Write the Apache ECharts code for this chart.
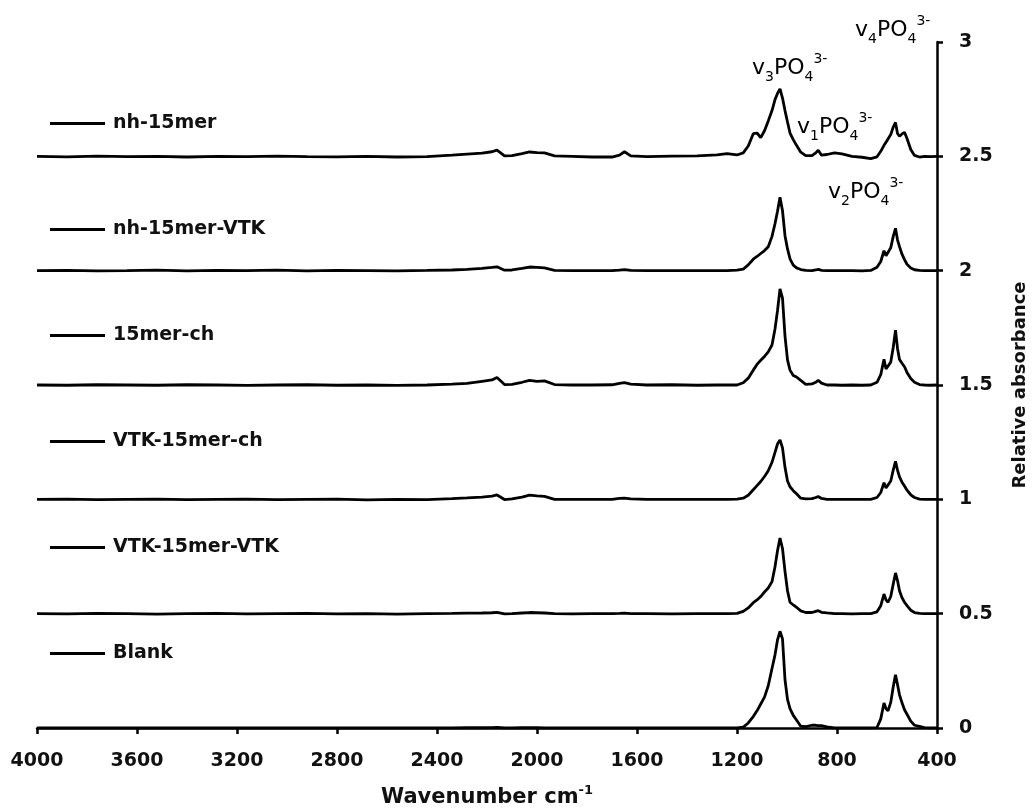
<!DOCTYPE html>
<html lang="en">
<head>
    <meta charset="UTF-8">
    <title>FTIR spectra</title>
    <script src="https://cdn.jsdelivr.net/npm/echarts@6/dist/echarts.min.js"></script>
</head>
<body style="margin:0;background:#fff;">
<div id="main" style="width: 1036px;height:810px;"></div>
<script>
    // wavenumber grid (cm-1), shared by all spectra
    var wavenumber = [4000, 3880, 3760, 3640, 3520, 3400, 3280, 3160, 3040, 2920,
        2800, 2680, 2560, 2440, 2340, 2280, 2220, 2180, 2160, 2130,
        2100, 2060, 2030, 2000, 1970, 1930, 1860, 1780, 1700, 1670,
        1650, 1625, 1560, 1460, 1360, 1280, 1240, 1200, 1175, 1155,
        1135, 1120, 1105, 1090, 1075, 1060, 1048, 1038, 1028, 1018,
        1008, 998, 988, 975, 962, 945, 925, 900, 885, 875,
        862, 840, 810, 780, 740, 700, 665, 640, 625, 612,
        604, 596, 585, 575, 566, 558, 550, 540, 530, 520,
        505, 490, 470, 450, 425, 400];

    var nh15mer = [2.500, 2.498, 2.501, 2.499, 2.500, 2.497, 2.500, 2.499, 2.501, 2.499,
        2.498, 2.500, 2.497, 2.499, 2.505, 2.510, 2.514, 2.520, 2.527, 2.502,
        2.503, 2.512, 2.519, 2.516, 2.515, 2.502, 2.500, 2.497, 2.497, 2.505,
        2.520, 2.502, 2.499, 2.501, 2.502, 2.506, 2.512, 2.506, 2.515, 2.545,
        2.599, 2.602, 2.582, 2.612, 2.655, 2.700, 2.748, 2.775, 2.795, 2.755,
        2.700, 2.650, 2.602, 2.573, 2.548, 2.518, 2.503, 2.503, 2.515, 2.527,
        2.505, 2.508, 2.515, 2.511, 2.500, 2.496, 2.490, 2.498, 2.522, 2.548,
        2.562, 2.566, 2.595, 2.628, 2.648, 2.600, 2.588, 2.598, 2.605, 2.578,
        2.530, 2.504, 2.497, 2.500, 2.499, 2.500];

    var nh15merVTK = [2.000, 2.001, 1.999, 2.000, 2.002, 1.999, 2.001, 2.000, 2.002, 1.999,
        2.001, 2.000, 1.999, 2.001, 2.003, 2.006, 2.010, 2.014, 2.017, 2.002,
        2.003, 2.010, 2.016, 2.014, 2.012, 2.001, 2.000, 2.000, 2.000, 2.002,
        2.005, 2.001, 2.000, 2.000, 2.000, 2.000, 2.000, 2.002, 2.007, 2.025,
        2.050, 2.062, 2.075, 2.088, 2.105, 2.150, 2.205, 2.260, 2.321, 2.262,
        2.153, 2.095, 2.052, 2.024, 2.012, 2.005, 2.001, 2.000, 2.003, 2.006,
        2.001, 2.000, 2.000, 2.000, 2.000, 1.999, 2.001, 2.015, 2.040, 2.087,
        2.065, 2.058, 2.100, 2.150, 2.185, 2.135, 2.105, 2.072, 2.048, 2.028,
        2.012, 2.004, 2.001, 2.000, 2.000, 2.000];

    var mer15ch = [1.500, 1.499, 1.501, 1.500, 1.499, 1.501, 1.500, 1.498, 1.500, 1.501,
        1.499, 1.500, 1.498, 1.500, 1.504, 1.507, 1.516, 1.522, 1.533, 1.502,
        1.503, 1.512, 1.520, 1.516, 1.518, 1.502, 1.500, 1.500, 1.501, 1.507,
        1.510, 1.504, 1.500, 1.501, 1.499, 1.500, 1.500, 1.500, 1.510, 1.530,
        1.565, 1.590, 1.608, 1.625, 1.645, 1.675, 1.745, 1.825, 1.920, 1.880,
        1.714, 1.610, 1.565, 1.542, 1.535, 1.520, 1.503, 1.505, 1.512, 1.520,
        1.508, 1.500, 1.500, 1.499, 1.500, 1.499, 1.500, 1.512, 1.545, 1.612,
        1.570, 1.565, 1.600, 1.665, 1.740, 1.660, 1.612, 1.595, 1.580, 1.555,
        1.528, 1.512, 1.502, 1.500, 1.499, 1.500];

    var vtk15merCh = [1.000, 1.001, 0.999, 1.000, 1.001, 0.999, 1.000, 1.001, 0.999, 1.000,
        1.001, 0.998, 1.000, 0.999, 1.003, 1.006, 1.010, 1.014, 1.019, 0.999,
        1.002, 1.010, 1.018, 1.015, 1.013, 1.000, 1.000, 1.000, 1.000, 1.004,
        1.005, 1.002, 1.000, 1.000, 1.000, 1.000, 1.000, 1.001, 1.005, 1.018,
        1.042, 1.060, 1.078, 1.100, 1.125, 1.162, 1.205, 1.242, 1.260, 1.225,
        1.140, 1.080, 1.055, 1.038, 1.024, 1.005, 1.002, 1.003, 1.008, 1.012,
        1.004, 1.000, 1.000, 1.000, 1.000, 1.000, 1.000, 1.008, 1.030, 1.073,
        1.050, 1.047, 1.080, 1.128, 1.166, 1.128, 1.098, 1.075, 1.058, 1.040,
        1.020, 1.008, 1.001, 1.000, 1.000, 1.000];

    var vtk15merVTK = [0.500, 0.499, 0.501, 0.500, 0.498, 0.500, 0.501, 0.499, 0.500, 0.501,
        0.499, 0.500, 0.498, 0.500, 0.501, 0.502, 0.503, 0.504, 0.506, 0.499,
        0.500, 0.503, 0.505, 0.504, 0.503, 0.500, 0.499, 0.500, 0.500, 0.501,
        0.502, 0.500, 0.500, 0.499, 0.500, 0.500, 0.500, 0.501, 0.510, 0.525,
        0.548, 0.560, 0.575, 0.595, 0.612, 0.640, 0.705, 0.775, 0.831, 0.785,
        0.685, 0.600, 0.550, 0.538, 0.528, 0.512, 0.505, 0.505, 0.510, 0.513,
        0.506, 0.503, 0.500, 0.500, 0.499, 0.500, 0.500, 0.508, 0.535, 0.586,
        0.560, 0.550, 0.575, 0.630, 0.678, 0.645, 0.600, 0.570, 0.550, 0.535,
        0.515, 0.505, 0.501, 0.500, 0.500, 0.500];

    var blank = [0.000, 0.000, 0.000, 0.000, 0.000, 0.000, 0.000, 0.000, 0.000, 0.000,
        0.000, 0.000, 0.000, 0.000, 0.000, 0.001, 0.001, 0.002, 0.003, 0.000,
        0.000, 0.001, 0.001, 0.001, 0.000, 0.000, 0.000, 0.000, 0.000, 0.000,
        0.000, 0.000, 0.000, 0.000, 0.000, 0.000, 0.000, 0.000, 0.004, 0.022,
        0.050, 0.075, 0.105, 0.135, 0.185, 0.260, 0.320, 0.385, 0.423, 0.390,
        0.211, 0.125, 0.085, 0.055, 0.035, 0.008, 0.006, 0.012, 0.012, 0.010,
        0.010, 0.005, 0.000, 0.000, 0.000, 0.000, 0.000, 0.002, 0.040, 0.109,
        0.085, 0.075, 0.112, 0.180, 0.233, 0.190, 0.145, 0.110, 0.080, 0.060,
        0.030, 0.012, 0.007, 0.002, 0.000, 0.000];

    var seriesNames = ['nh-15mer', 'nh-15mer-VTK', '15mer-ch', 'VTK-15mer-ch', 'VTK-15mer-VTK', 'Blank'];
    var seriesValues = [nh15mer, nh15merVTK, mer15ch, vtk15merCh, vtk15merVTK, blank];

    var font = 'DejaVu Sans';

    function pairs(ys) {
        return wavenumber.map(function (w, i) { return [w, ys[i]]; });
    }

    var peakRich = {
        m: { fontFamily: font, fontSize: 22, color: '#111', lineHeight: 32 },
        b: { fontFamily: font, fontSize: 14, color: '#111', verticalAlign: 'bottom', lineHeight: 14 },
        t: { fontFamily: font, fontSize: 14, color: '#111', verticalAlign: 'top', lineHeight: 14 }
    };

    function peakLabel(n, x, y) {
        return {
            type: 'text',
            left: x,
            top: y - 16,
            style: {
                text: '{m|v}{b|' + n + '}{m|PO}{b|4}{t|3-}',
                rich: peakRich
            }
        };
    }

    var myChart = echarts.init(document.getElementById('main'));

    option = {
        animation: false,
        backgroundColor: '#fff',
        grid: {
            left: 37,
            right: 99,
            top: 42,
            bottom: 82,
            containLabel: false,
            outerBoundsMode: 'none'
        },
        legend: {
            orient: 'vertical',
            left: 50,
            top: 114,
            padding: 0,
            itemGap: 87,
            itemWidth: 55,
            itemHeight: 3,
            icon: 'rect',
            selectedMode: false,
            data: seriesNames,
            textStyle: {
                fontFamily: font,
                fontWeight: 'bold',
                fontSize: 19,
                color: '#111',
                padding: [0, 0, 0, 3]
            }
        },
        xAxis: {
            type: 'value',
            inverse: true,
            min: 400,
            max: 4000,
            interval: 400,
            name: '{a|Wavenumber cm}{s|-1}',
            nameLocation: 'middle',
            nameGap: 56,
            nameTextStyle: {
                rich: {
                    a: { fontFamily: font, fontWeight: 'bold', fontSize: 21, color: '#111', lineHeight: 28 },
                    s: { fontFamily: font, fontWeight: 'bold', fontSize: 13, color: '#111', verticalAlign: 'top', lineHeight: 13 }
                }
            },
            splitLine: { show: false },
            axisLine: { lineStyle: { color: '#000', width: 2.5 } },
            axisTick: { length: 6, lineStyle: { color: '#000', width: 2.5 } },
            axisLabel: {
                margin: 24,
                fontFamily: font,
                fontWeight: 'bold',
                fontSize: 19,
                color: '#111',
                formatter: function (v) { return String(v); }
            }
        },
        yAxis: {
            type: 'value',
            position: 'right',
            min: 0,
            max: 3,
            interval: 0.5,
            name: 'Relative absorbance',
            nameLocation: 'middle',
            nameRotate: 90,
            nameGap: 74,
            nameTextStyle: {
                fontFamily: font,
                fontWeight: 'bold',
                fontSize: 18,
                color: '#111'
            },
            splitLine: { show: false },
            axisLine: { show: true, lineStyle: { color: '#000', width: 2.5 } },
            axisTick: { show: true, length: 6, lineStyle: { color: '#000', width: 2.5 } },
            axisLabel: {
                margin: 22,
                fontFamily: font,
                fontWeight: 'bold',
                fontSize: 19,
                color: '#111'
            }
        },
        graphic: [
            peakLabel('3', 752, 68),
            peakLabel('1', 797, 127),
            peakLabel('2', 828, 192),
            peakLabel('4', 855, 30)
        ],
        series: seriesNames.map(function (name, i) {
            return {
                name: name,
                type: 'line',
                data: pairs(seriesValues[i]),
                showSymbol: false,
                symbol: 'none',
                color: '#000',
                lineStyle: { color: '#000', width: 2.8 },
                z: 3
            };
        })
    };

    myChart.setOption(option);
</script>
</body>
</html>
